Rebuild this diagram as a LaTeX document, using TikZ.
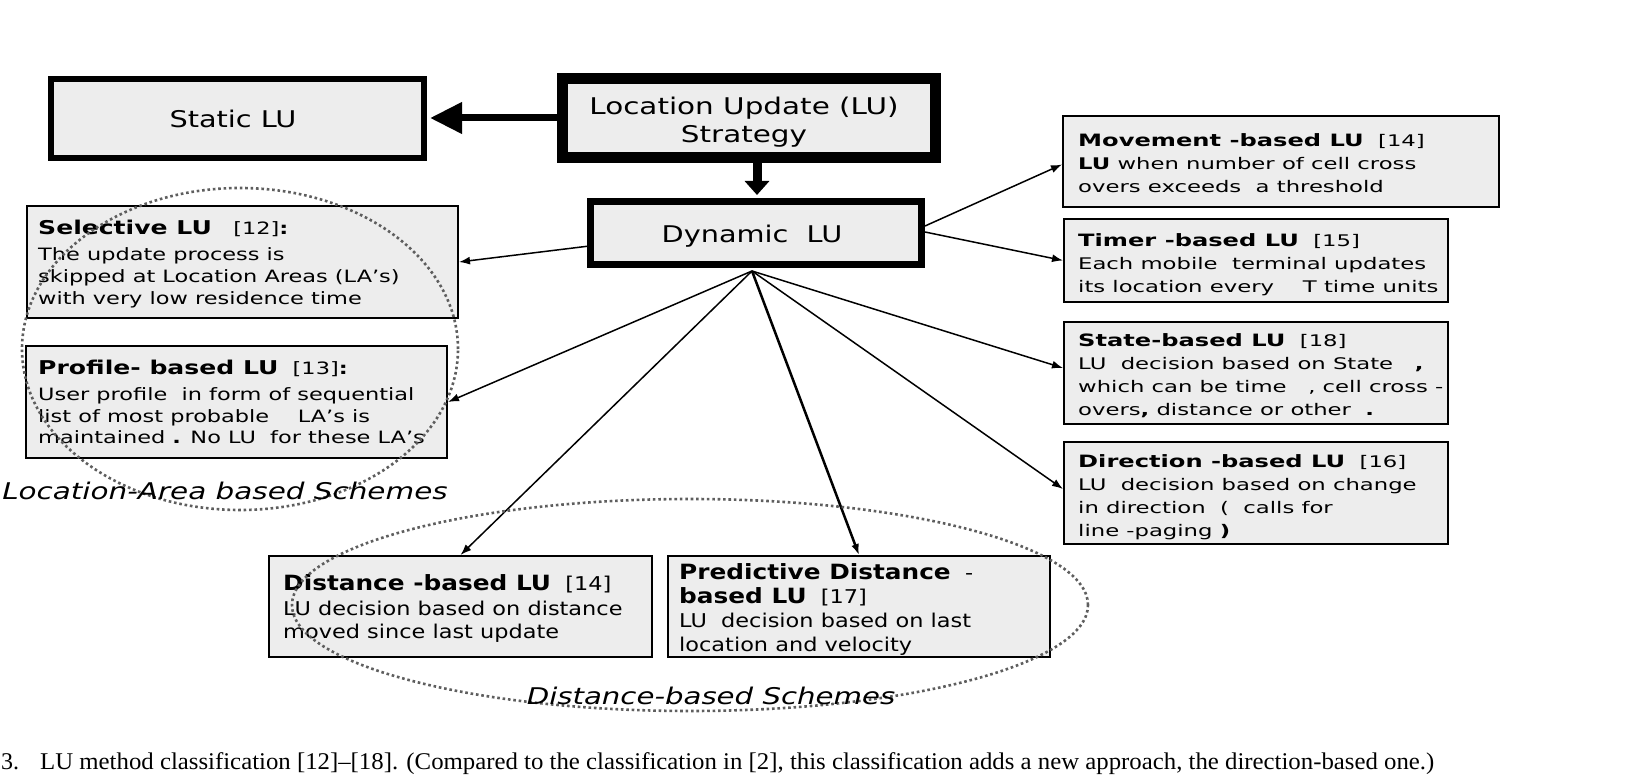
\documentclass[tikz,border=0pt]{standalone}
\usepackage{graphicx}
\usepackage{fontspec}
\setmainfont{DejaVu Sans}
\newfontfamily\capfont{Liberation Serif}
\usetikzlibrary{arrows.meta,calc}
\definecolor{boxgray}{HTML}{EDEDED}
\definecolor{dotgray}{HTML}{5E5E5E}
\begin{document}
\begin{tikzpicture}[x=1pt,y=-1pt,
  box/.style={draw=black, fill=boxgray, line width=2pt, inner sep=0pt, rectangle},
  txt/.style={inner sep=0pt, anchor=base west},
  ctxt/.style={inner sep=0pt, anchor=base},
  conn/.style={line width=1.5pt, -{Latex[length=11pt,width=8pt]}},
  zone/.style={draw=dotgray, line width=2.6pt, dash pattern=on 2.6pt off 2.8pt},
]
\useasboundingbox[fill=white] (0,0) rectangle (1633,783);

% boxes
\node[box, line width=6pt, minimum width=373pt, minimum height=79pt] (st) at (237.5,118.5) {};
\node[box, line width=11pt, minimum width=373pt, minimum height=79pt] (lu) at (749,118) {};
\node[box, line width=7pt, minimum width=331pt, minimum height=63pt] (dyn) at (756,233) {};
\node[box, minimum width=436pt, minimum height=91pt] (mov) at (1281,161.5) {};
\node[box, minimum width=384pt, minimum height=83pt] (tim) at (1256,260.5) {};
\node[box, minimum width=384pt, minimum height=102pt] (sta) at (1256,373) {};
\node[box, minimum width=384pt, minimum height=102pt] (dir) at (1256,493) {};
\node[box, minimum width=431pt, minimum height=112pt] (sel) at (242.5,262) {};
\node[box, minimum width=421pt, minimum height=112pt] (prof) at (236.5,402) {};
\node[box, minimum width=383pt, minimum height=101pt] (dist) at (460.5,606.5) {};
\node[box, minimum width=382pt, minimum height=101pt] (pred) at (859,606.5) {};

% big box texts
\node[ctxt] (tst) at (233,128) {\fontsize{23}{28}\selectfont\scalebox{1.25}[1]{Static LU}};
\node[ctxt] (tlu) at (744,115) {\fontsize{23}{28}\selectfont\scalebox{1.28}[1]{\begin{tabular}[t]{@{}c@{}}Location Update (LU)\\ Strategy\end{tabular}}};
\node[ctxt] (tdyn) at (752,243) {\fontsize{23}{28}\selectfont\scalebox{1.25}[1]{Dynamic\ \ LU}};

% right boxes
\node[txt] (tmov) at (1078,147) {\fontsize{16}{23}\selectfont\scalebox{1.42}[1]{\begin{tabular}[t]{@{}l@{}}{\fontsize{17}{23}\selectfont\bfseries Movement -based LU}\ \ [14]\\ \textbf{LU} when number of cell cross\\ overs exceeds\ \ a threshold\end{tabular}}};
\node[txt] (ttim) at (1078,247) {\fontsize{16}{23}\selectfont\scalebox{1.42}[1]{\begin{tabular}[t]{@{}l@{}}{\fontsize{17}{23}\selectfont\bfseries Timer -based LU}\ \ [15]\\ Each mobile\ \ terminal updates\\ its location every\ \ \ \ T time units\end{tabular}}};
\node[txt] (tsta) at (1078,347) {\fontsize{16}{23}\selectfont\scalebox{1.42}[1]{\begin{tabular}[t]{@{}l@{}}{\fontsize{17}{23}\selectfont\bfseries State-based LU}\ \ [18]\\ LU\ \ decision based on State\ \ \ \textbf{,}\\ which can be time\ \ \ , cell cross -\\ overs\textbf{,} distance or other\ \ \textbf{.}\end{tabular}}};
\node[txt] (tdir) at (1078,467) {\fontsize{16}{23}\selectfont\scalebox{1.42}[1]{\begin{tabular}[t]{@{}l@{}}{\fontsize{17}{23}\selectfont\bfseries Direction -based LU}\ \ [16]\\ LU\ \ decision based on change\\ in direction\ \ (\ \ calls for\\ line -paging\ \textbf{)}\end{tabular}}};

% left boxes
\node[txt] (tsel) at (38,235) {\fontsize{17}{22}\selectfont\scalebox{1.32}[1]{\begin{tabular}[t]{@{}l@{}}{\fontsize{19}{23}\selectfont\bfseries Selective LU}\ \ \ [12]\textbf{:}\\[4pt] The update process is\\ skipped at Location Areas (LA's)\\ with very low residence time\end{tabular}}};
\node[txt] (tprof) at (38,375) {\fontsize{17}{21.5}\selectfont\scalebox{1.32}[1]{\begin{tabular}[t]{@{}l@{}}{\fontsize{19}{23}\selectfont\bfseries Profile- based LU}\ \ [13]\textbf{:}\\[4.5pt] User profile\ \ in form of sequential\\ list of most probable\ \ \ \ LA's is\\ maintained \textbf{.} No LU\ \ for these LA's\end{tabular}}};

% bottom boxes
\node[txt] (tdist) at (283,590) {\fontsize{19}{23}\selectfont\scalebox{1.18}[1]{\begin{tabular}[t]{@{}l@{}}{\fontsize{21}{24}\selectfont\bfseries Distance -based LU}\ \ [14]\\[2pt] LU decision based on distance\\ moved since last update\end{tabular}}};
\node[txt] (tpred) at (679,579) {\fontsize{19}{24}\selectfont\scalebox{1.18}[1]{\begin{tabular}[t]{@{}l@{}}{\fontsize{21}{24}\selectfont\bfseries Predictive Distance}\ \ -\\ {\fontsize{21}{24}\selectfont\bfseries based LU}\ \ [17]\\ LU\ \ decision based on last\\ location and velocity\end{tabular}}};

% hub
\coordinate (hub) at ($(dyn.south)+(-4,3)$);

% connectors
\draw[line width=7pt, -{Triangle[length=32pt,width=30pt]}] (lu.west) -- ($(st.east)+(3,-0.5)$);
\draw[line width=9pt, -{Triangle[length=14pt,width=24pt]}] ($(lu.south)+(8,0)$) -- ($(dyn.north)+(1,-3)$);
\draw[conn] ($(dyn.south west)!0.31!(dyn.north west)$) -- (sel.east);
\draw[conn] (hub) -- (prof.east);
\draw[conn] (hub) -- (dist.north);
\draw[conn, line width=2.5pt] (hub) -- (pred.north);
\draw[conn] ($(dyn.east)+(0,-7)$) -- ($(mov.west)+(0,3)$);
\draw[conn] ($(dyn.east)+(0,-1)$) -- (tim.west);
\draw[conn] (hub) -- ($(sta.west)+(0,-5)$);
\draw[conn] (hub) -- ($(dir.west)+(0,-4)$);

% scheme zones
\draw[zone] (240,349) ellipse [x radius=218pt, y radius=161pt];
\draw[zone] (690,605) ellipse [x radius=398pt, y radius=106pt];
\node[ctxt] (lalab) at (225,499) {\fontsize{23}{28}\selectfont\itshape\scalebox{1.28}[1]{Location-Area based Schemes}};
\node[ctxt] (dslab) at (711,704) {\fontsize{23}{28}\selectfont\itshape\scalebox{1.27}[1]{Distance-based Schemes}};

% caption
\node[txt] (fignum) at (1,769) {\capfont\fontsize{24}{28}\selectfont 3.};
\node[txt] (cap) at (40,769) {\capfont\fontsize{24}{28}\selectfont\resizebox{1394pt}{\height}{LU method classification [12]–[18]. (Compared to the classification in [2], this classification adds a new approach, the direction-based one.)}};
\end{tikzpicture}
\end{document}
